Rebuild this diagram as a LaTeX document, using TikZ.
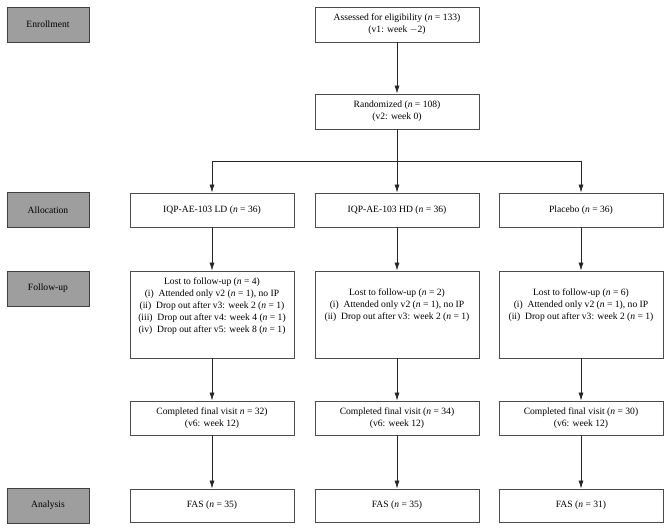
\documentclass[tikz,border=0pt]{standalone}
\usepackage{fontspec}
\setmainfont{Liberation Serif}
\usetikzlibrary{arrows.meta}
\begin{document}
\begin{tikzpicture}[x=1pt,y=-1pt,
  every node/.style={font=\fontsize{9.6}{12}\selectfont, inner sep=0pt},
  graybox/.style={draw=black!75, fill=black!38, minimum width=82pt, minimum height=35pt, line width=0.8pt},
  wbox/.style={draw=black!70, fill=white, minimum width=164pt, line width=0.8pt, align=center},
  conn/.style={draw=black!85, line width=0.7pt},
  arr/.style={conn, -{Latex[length=8pt,width=5pt]}}]
\useasboundingbox (0,0) rectangle (671,529);
% stage labels
\node[graybox] (enr) at (48,24.5) {Enrollment};
\node[graybox] (alc) at (48,210) {Allocation};
\node[graybox] (fol) at (48,288.5) {Follow-up};
\node[graybox] (ana) at (48,505.5) {Analysis};
% top
\node[wbox, minimum height=35pt] (ass) at (397,24.5) {Assessed for eligibility (\textit{n} = 133)\\(v1: week $-$2)};
\node[wbox, minimum height=35pt] (ran) at (397,111.5) {Randomized (\textit{n} = 108)\\(v2: week 0)};
% allocation
\node[wbox, minimum height=34pt] (ld) at (212,210) {IQP-AE-103 LD (\textit{n} = 36)};
\node[wbox, minimum height=34pt] (hd) at (397,210) {IQP-AE-103 HD (\textit{n} = 36)};
\node[wbox, minimum height=34pt] (pl) at (581,210) {Placebo (\textit{n} = 36)};
% follow-up
\node[wbox, minimum height=87pt] (fld) at (212,314.5) {Lost to follow-up (\textit{n} = 4)\\
(i)\enspace Attended only v2 (\textit{n} = 1), no IP\\
(ii)\enspace Drop out after v3: week 2 (\textit{n} = 1)\\
(iii)\enspace Drop out after v4: week 4 (\textit{n} = 1)\\
(iv)\enspace Drop out after v5: week 8 (\textit{n} = 1)\\[6pt]\mbox{}};
\node[wbox, minimum height=87pt] (fhd) at (397,314.5) {Lost to follow-up (\textit{n} = 2)\\
(i)\enspace Attended only v2 (\textit{n} = 1), no IP\\
(ii)\enspace Drop out after v3: week 2 (\textit{n} = 1)\\[8pt]\mbox{}};
\node[wbox, minimum height=87pt] (fpl) at (581,314.5) {Lost to follow-up (\textit{n} = 6)\\
(i)\enspace Attended only v2 (\textit{n} = 1), no IP\\
(ii)\enspace Drop out after v3: week 2 (\textit{n} = 1)\\[8pt]\mbox{}};
% completed
\node[wbox, minimum height=34pt] (cld) at (212,418) {Completed final visit \textit{n} = 32)\\(v6: week 12)};
\node[wbox, minimum height=34pt] (chd) at (397,418) {Completed final visit (\textit{n} = 34)\\(v6: week 12)};
\node[wbox, minimum height=34pt] (cpl) at (581,418) {Completed final visit (\textit{n} = 30)\\(v6: week 12)};
% analysis
\node[wbox, minimum height=33pt] (ald) at (212,505.5) {FAS (\textit{n} = 35)};
\node[wbox, minimum height=33pt] (ahd) at (397,505.5) {FAS (\textit{n} = 35)};
\node[wbox, minimum height=33pt] (apl) at (581,505.5) {FAS (\textit{n} = 31)};
% connectors
\coordinate (br) at (397,161);
\draw[arr] (ass) -- (ran);
\draw[arr] (ran) -- (hd);
\draw[conn] (ld.north |- br) -- (pl.north |- br);
\draw[arr] (ld.north |- br) -- (ld);
\draw[arr] (pl.north |- br) -- (pl);
\draw[arr] (ld) -- (fld);
\draw[arr] (hd) -- (fhd);
\draw[arr] (pl) -- (fpl);
\draw[arr] (fld) -- (cld);
\draw[arr] (fhd) -- (chd);
\draw[arr] (fpl) -- (cpl);
\draw[arr] (cld) -- (ald);
\draw[arr] (chd) -- (ahd);
\draw[arr] (cpl) -- (apl);
\end{tikzpicture}
\end{document}
